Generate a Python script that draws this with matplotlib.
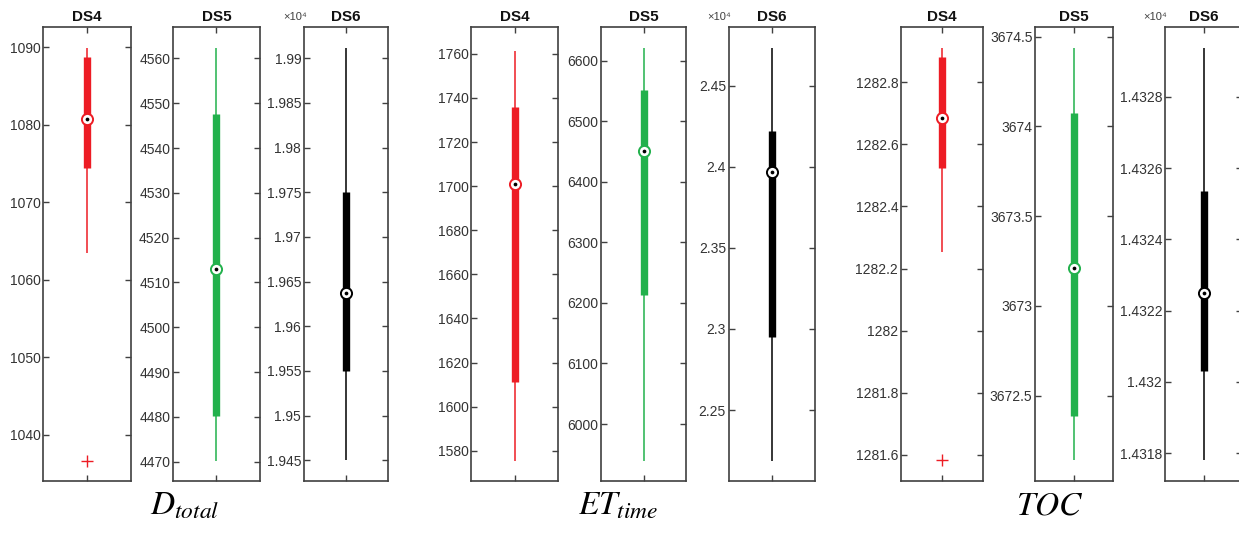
import numpy as np
import matplotlib
matplotlib.use("Agg")
import matplotlib.pyplot as plt
import matplotlib.ticker as mtick

plt.rcParams["font.family"] = ["Liberation Sans", "DejaVu Sans"]
plt.rcParams["mathtext.fontset"] = "stix"

# five-number summaries: [lower whisker, q1, median, q3, upper whisker]
d_total_ds4 = [1063.5, 1074.4, 1080.8, 1088.7, 1089.9]
d_total_ds5 = [4470.1, 4480.1, 4513.0, 4547.6, 4562.3]
d_total_ds6 = [19450, 19550, 19637, 19750, 19911]
et_time_ds4 = [1575.5, 1611.1, 1700.8, 1736.1, 1761.5]
et_time_ds5 = [5939.5, 6212.3, 6450.4, 6552.2, 6620.8]
et_time_ds6 = [22186, 22950, 23968, 24223, 24732]
toc_ds4 = [1282.253, 1282.525, 1282.684, 1282.881, 1282.911]
toc_ds5 = [3672.141, 3672.388, 3673.21, 3674.072, 3674.435]
toc_ds6 = [14317.81, 14320.32, 14322.49, 14325.35, 14329.36]

d_total_outliers = [1036.6]
toc_outliers = [1281.584]

ds_names = ["DS4", "DS5", "DS6"]
metric_labels = [r"$D_{total}$", r"$ET_{time}$", r"$TOC$"]

# y ticks per panel
d_total_ticks = [np.arange(1040, 1091, 10), np.arange(4470, 4561, 10), np.arange(19450, 19901, 50)]
et_time_ticks = [np.arange(1580, 1761, 20), np.arange(6000, 6601, 100), np.arange(22500, 24501, 500)]
toc_ticks = [np.arange(1281.6, 1282.81, 0.2), np.arange(3672.5, 3674.51, 0.5), np.arange(14318, 14328.1, 2)]

# y limits per panel
d_total_ylim = [(1034.06, 1092.6), (4465.7, 4567.0), (19426.8, 19935)]
et_time_ylim = [(1566.3, 1772.2), (5906, 6655.4), (22063, 24861)]
toc_ylim = [(1281.516, 1282.978), (3672.024, 3674.554), (14317.22, 14329.96)]

colors = ["#ED1C24", "#22B14C", "#000000"]

groups = [
    ([d_total_ds4, d_total_ds5, d_total_ds6], [d_total_outliers, [], []], d_total_ticks, d_total_ylim),
    ([et_time_ds4, et_time_ds5, et_time_ds6], [[], [], []], et_time_ticks, et_time_ylim),
    ([toc_ds4, toc_ds5, toc_ds6], [toc_outliers, [], []], toc_ticks, toc_ylim),
]

# axes left/right edges in pixels
lefts = [[43.3, 130.7], [173, 260], [304, 387.7],
         [471.3, 558.3], [600.7, 686.3], [728.7, 814.7],
         [901, 983], [1035.3, 1112.7], [1165, 1242]]
label_x = [185, 618, 1050]

W, H = 1239, 533
top_px, bot_px = 27, 481

fig = plt.figure(figsize=(W / 100, H / 100), dpi=100)

k = 0
for g, (stats, outs, ticks, ylims) in enumerate(groups):
    for j in range(3):
        l, r = lefts[k]
        k += 1
        ax = fig.add_axes([l / W, 1 - bot_px / H, (r - l) / W, (bot_px - top_px) / H])
        s = stats[j]
        c = colors[j]
        ax.plot([1, 1], [s[0], s[4]], color=c, lw=1.1, solid_capstyle="butt", zorder=2)
        ax.plot([1, 1], [s[1], s[3]], color=c, lw=5.3, solid_capstyle="butt", zorder=3)
        ax.plot([1], [s[2]], "o", ms=8, mfc="white", mec=c, mew=1.4, zorder=4)
        ax.plot([1], [s[2]], "o", ms=2.7, mfc="black", mec="black", mew=0, zorder=5)
        if outs[j]:
            ax.plot([1] * len(outs[j]), outs[j], "+", color="#ED1C24", ms=8, mew=1.0, zorder=4)
        ax.set_xlim(0.5, 1.5)
        ax.set_ylim(*ylims[j])
        ax.set_yticks(ticks[j])
        ax.set_xticks([1])
        ax.set_xticklabels([])
        if j == 2:
            ax.yaxis.set_major_formatter(mtick.FuncFormatter(lambda v, p: "%g" % round(v / 1e4, 6)))
            ax.text(0.03, 1.01, "×10⁴", transform=ax.transAxes, ha="right", va="bottom",
                    fontsize=8, color="#404040")
        else:
            ax.yaxis.set_major_formatter(mtick.FuncFormatter(lambda v, p: "%g" % round(v, 4)))
        ax.tick_params(direction="in", right=True, top=True, length=4, width=1,
                       color="#404040", labelsize=10, labelcolor="#333333", pad=2)
        for sp in ax.spines.values():
            sp.set_color("#404040")
            sp.set_linewidth(1.2)
        ax.set_title(ds_names[j], fontsize=11, fontweight="bold", color="#111111", pad=4)
    fig.text(label_x[g] / W, 1 - 506 / H, metric_labels[g], ha="center", va="center", fontsize=24)

fig.savefig("out.png", dpi=100)
